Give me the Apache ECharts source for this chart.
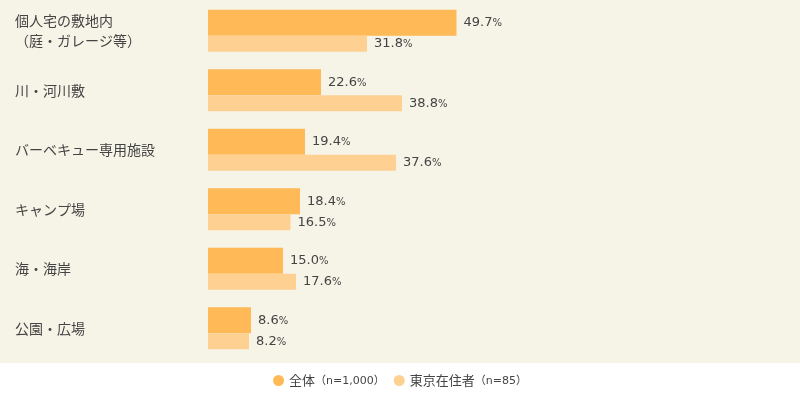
<!DOCTYPE html>
<html><head><meta charset="utf-8">
<script src="https://cdn.jsdelivr.net/npm/echarts@6/dist/echarts.min.js"></script>
<style>html,body{margin:0;padding:0;background:#fff}#c{width:800px;height:400px}</style>
</head><body><div id="c"></div>
<script>
const categories = ['個人宅の敷地内\n（庭・ガレージ等）', '川・河川敷', 'バーベキュー専用施設', 'キャンプ場', '海・海岸', '公園・広場'];
const seriesNames = ['全体', '東京在住者'];
const seriesNotes = ['（n=1,000）', '（n=85）'];
const allValues = [49.7, 22.6, 19.4, 18.4, 15.0, 8.6];
const tokyoValues = [31.8, 38.8, 37.6, 16.5, 17.6, 8.2];

const fontFam = '"Noto Sans CJK JP", "Noto Sans", sans-serif';
const numFam = '"DejaVu Sans", "Noto Sans CJK JP", sans-serif';
const chart = echarts.init(document.getElementById('c'));
const lbl = {
  show: true, position: 'right', distance: 7,
  formatter: p => '{v|' + p.value.toFixed(1) + '}{p|%}',
  rich: {
    v: {fontSize: 13, color: '#444', fontFamily: numFam},
    p: {fontSize: 10, color: '#444', fontFamily: numFam, padding: [2, 0, 0, 0]}
  }
};
chart.setOption({
  backgroundColor: '#fff',
  animation: false,
  graphic: [{type: 'rect', z: -100, silent: true, shape: {x: 0, y: 0, width: 800, height: 363}, style: {fill: '#f6f3e7'}}],
  grid: {left: 208, width: 500, top: 1, bottom: 42},
  legend: {
    bottom: 8, left: 'center', icon: 'circle', itemWidth: 11, itemHeight: 11, itemGap: 9,
    data: seriesNames,
    formatter: n => '{a|' + n + '}{b|' + seriesNotes[seriesNames.indexOf(n)] + '}',
    textStyle: {
      rich: {
        a: {fontSize: 13, color: '#444', fontFamily: fontFam},
        b: {fontSize: 11, color: '#444', fontFamily: numFam, padding: [2, 0, 0, 0]}
      }
    }
  },
  xAxis: {type: 'value', min: 0, max: 100, show: false},
  yAxis: {
    type: 'category', inverse: true, data: categories,
    axisLine: {show: false}, axisTick: {show: false},
    axisLabel: {
      align: 'left', margin: 193, color: '#444', fontSize: 14, lineHeight: 20, fontFamily: fontFam
    }
  },
  series: [
    {name: seriesNames[0], type: 'bar', data: allValues, barWidth: 26, barGap: '0%',
     itemStyle: {color: '#ffb957'}, label: lbl},
    {name: seriesNames[1], type: 'bar', data: tokyoValues, barWidth: 16, barGap: '0%',
     itemStyle: {color: '#fed193'}, label: lbl}
  ]
});
</script></body></html>
